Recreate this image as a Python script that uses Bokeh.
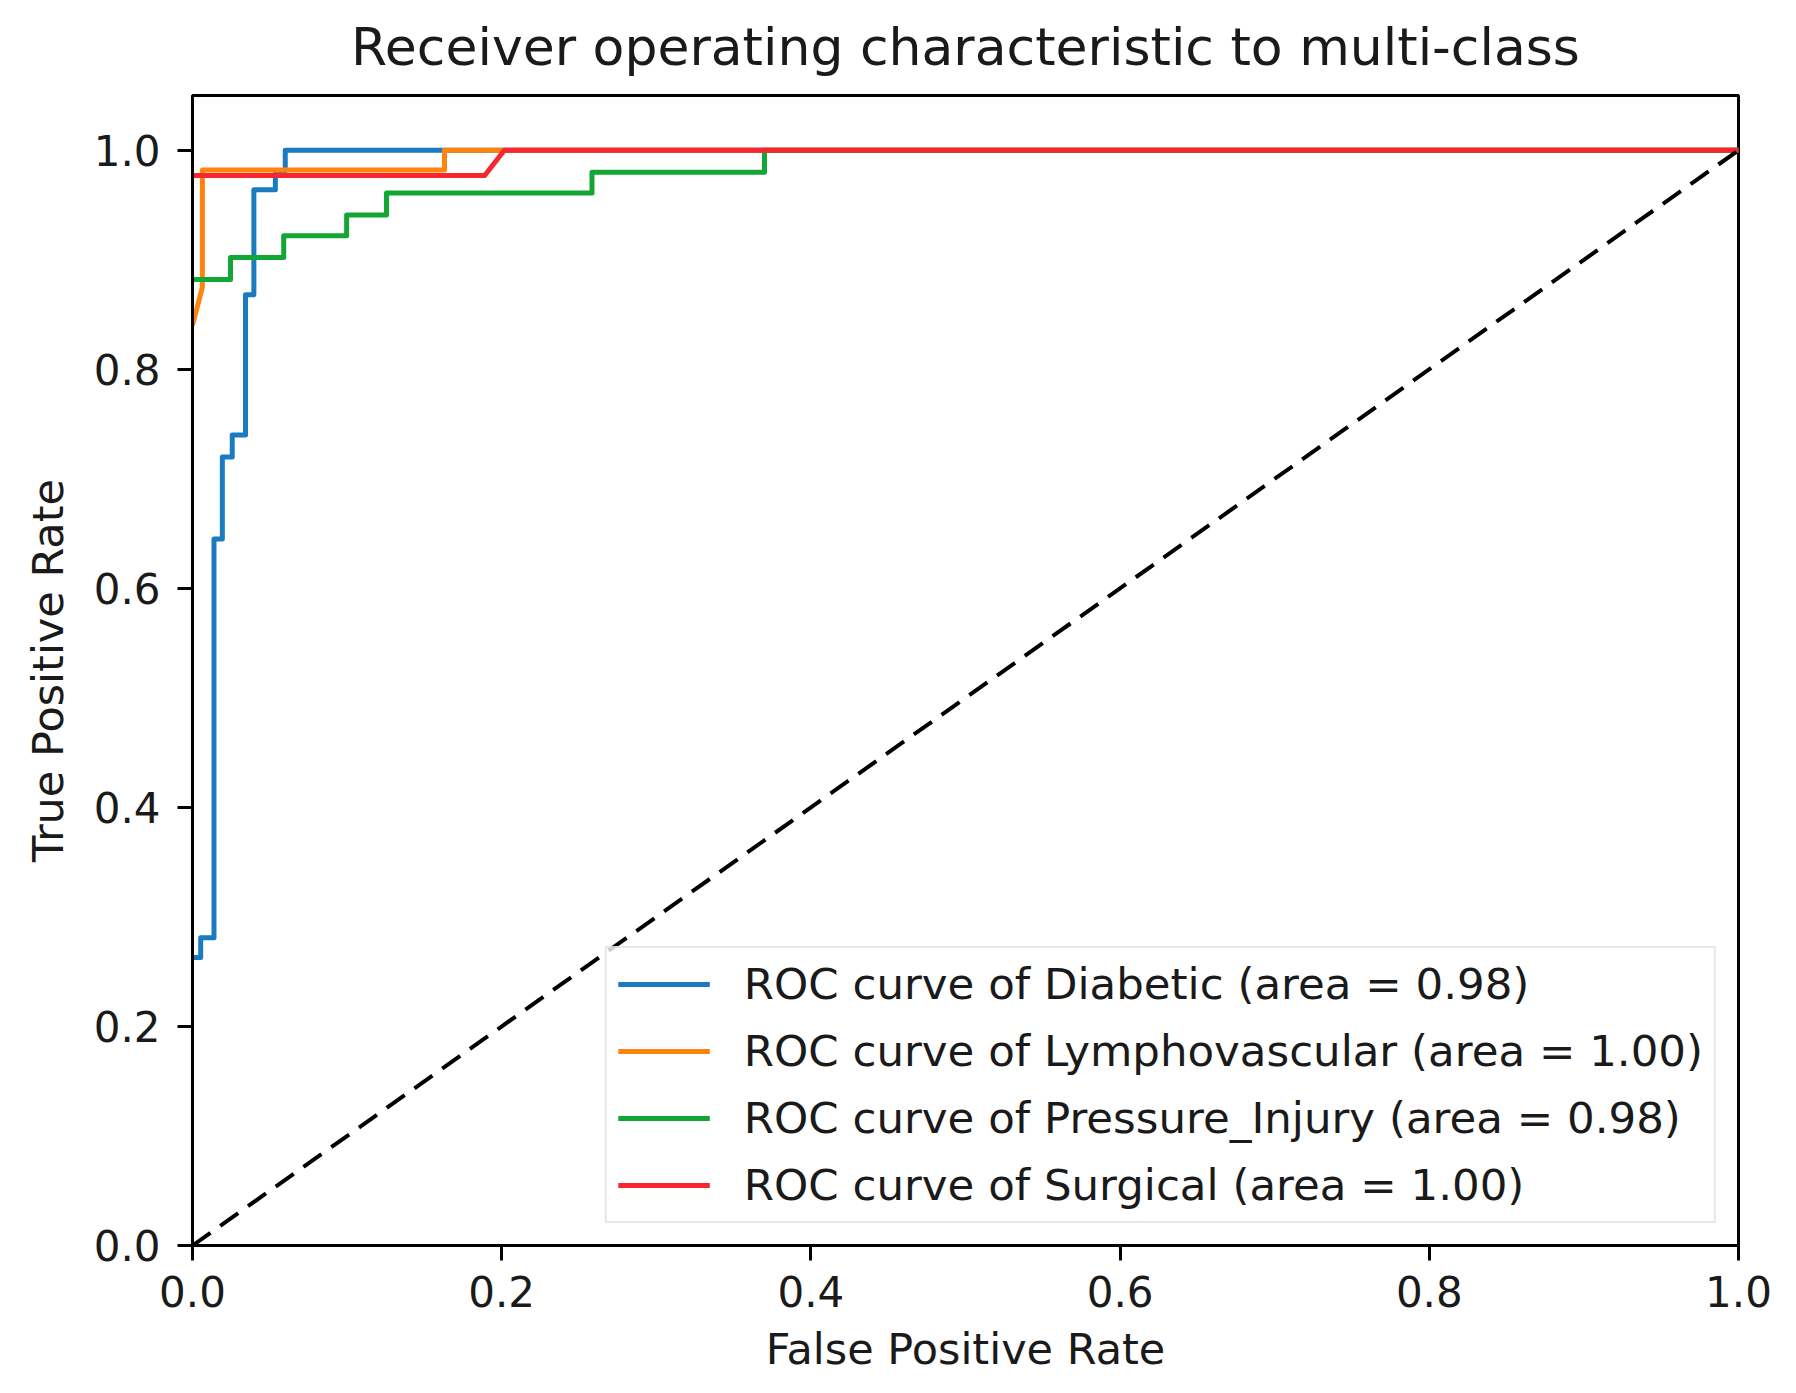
from bokeh.plotting import figure
from bokeh.models import Range1d, Legend, LegendItem
from bokeh.embed import file_html
from bokeh.resources import INLINE

# ---- data ----
diabetic_fpr = [0.0, 0.0053, 0.0053, 0.0139, 0.0139, 0.0193, 0.0193, 0.0257, 0.0257,
                0.0343, 0.0343, 0.0397, 0.0397, 0.0536, 0.0536, 0.0600, 0.0600, 1.0]
diabetic_tpr = [0.263, 0.263, 0.281, 0.281, 0.645, 0.645, 0.720, 0.720, 0.740,
                0.740, 0.868, 0.868, 0.964, 0.964, 0.981, 0.981, 1.0, 1.0]

lympho_fpr = [0.0, 0.0064, 0.0064, 0.163, 0.163, 1.0]
lympho_tpr = [0.840, 0.875, 0.982, 0.982, 1.0, 1.0]

pressure_fpr = [0.0, 0.0246, 0.0246, 0.059, 0.059, 0.0997, 0.0997, 0.1255, 0.1255,
                0.2584, 0.2584, 0.370, 0.370, 1.0]
pressure_tpr = [0.882, 0.882, 0.902, 0.902, 0.922, 0.922, 0.941, 0.941, 0.961,
                0.961, 0.980, 0.980, 1.0, 1.0]

surgical_fpr = [0.0, 0.189, 0.2017, 1.0]
surgical_tpr = [0.977, 0.977, 1.0, 1.0]

diag_x = [0.0, 1.0]
diag_y = [0.0, 1.0]

class_names = ["Diabetic", "Lymphovascular", "Pressure_Injury", "Surgical"]
class_auc = [0.98, 1.00, 0.98, 1.00]
class_colors = ["#1a7bc0", "#ff840e", "#12a634", "#f8262e"]

x_ticks = [0.0, 0.2, 0.4, 0.6, 0.8, 1.0]
y_ticks = [0.0, 0.2, 0.4, 0.6, 0.8, 1.0]
tick_labels = ["0.0", "0.2", "0.4", "0.6", "0.8", "1.0"]

FONT = "DejaVu Sans"
TXT = "#1a1a1a"

p = figure(width=1780, height=1377, output_backend="svg", toolbar_location=None,
           x_range=Range1d(0, 1.0), y_range=Range1d(0, 1.05),
           min_border_left=192, min_border_right=42, min_border_top=95, min_border_bottom=132,
           title="Receiver operating characteristic to multi-class")

p.title.text_font = FONT
p.title.text_font_size = "52px"
p.title.text_font_style = "normal"
p.title.text_color = TXT
p.title.align = "center"
p.title.vertical_align = "top"
p.title.standoff = 33

p.grid.visible = False
p.outline_line_color = "black"
p.outline_line_width = 3

for ax, ticks in ((p.xaxis, x_ticks), (p.yaxis, y_ticks)):
    ax.ticker = ticks
    ax.major_label_overrides = {t: l for t, l in zip(ticks, tick_labels)}
    ax.major_label_text_font = FONT
    ax.major_label_text_font_size = "42px"
    ax.major_label_text_color = TXT
    ax.axis_label_text_font = FONT
    ax.axis_label_text_font_size = "43px"
    ax.axis_label_text_font_style = "normal"
    ax.axis_label_text_color = TXT
    ax.axis_line_color = "black"
    ax.axis_line_width = 3
    ax.major_tick_line_color = "black"
    ax.major_tick_line_width = 3
    ax.major_tick_out = 15
    ax.major_tick_in = 0
    ax.minor_tick_line_color = None

p.xaxis.major_label_standoff = 15
p.yaxis.major_label_standoff = 17
p.xaxis.axis_label = "False Positive Rate"
p.yaxis.axis_label = "True Positive Rate"
p.xaxis.axis_label_standoff = 14
p.yaxis.axis_label_standoff = 18

series = [(diabetic_fpr, diabetic_tpr), (lympho_fpr, lympho_tpr),
          (pressure_fpr, pressure_tpr), (surgical_fpr, surgical_tpr)]
items = []
for (fx, ty), name, auc, col in zip(series, class_names, class_auc, class_colors):
    r = p.line(fx, ty, line_color=col, line_width=5, line_join="round")
    items.append(LegendItem(label="ROC curve of %s (area = %.2f)" % (name, auc), renderers=[r]))

p.line(diag_x, diag_y, line_color="black", line_width=4, line_dash="22 12")

legend = Legend(items=items, location="bottom_right")
legend.margin = 22
legend.padding = 11
legend.spacing = 17
legend.glyph_width = 92
legend.glyph_height = 50
legend.label_height = 50
legend.label_standoff = 34
legend.label_text_font = FONT
legend.label_text_font_size = "43.5px"
legend.label_text_color = TXT
legend.border_line_color = "#d0d0d0"
legend.border_line_width = 2
legend.background_fill_color = "white"
legend.background_fill_alpha = 0.8
p.add_layout(legend, "center")

open("out.html", "w").write(file_html(p, INLINE))
